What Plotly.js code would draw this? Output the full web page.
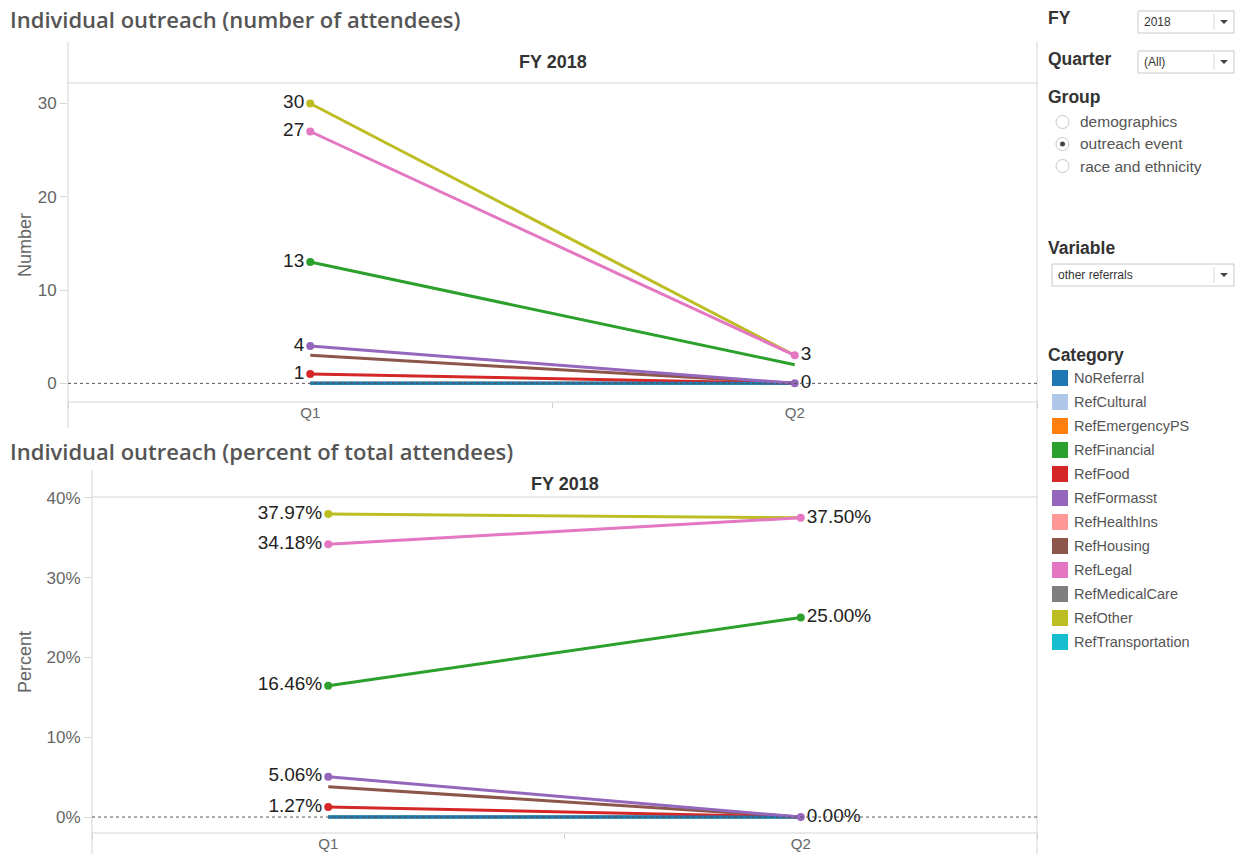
<!DOCTYPE html>
<html><head><meta charset="utf-8">
<script src="https://cdn.plot.ly/plotly-3.0.1.min.js"></script>
<style>html,body{margin:0;padding:0;background:#fff}#chart{width:1235px;height:854px}</style>
</head><body><div id="chart"></div>
<script>
const quarters = ['Q1', 'Q2'];
const categories = ['NoReferral','RefCultural','RefEmergencyPS','RefFinancial','RefFood','RefFormasst','RefHealthIns','RefHousing','RefLegal','RefMedicalCare','RefOther','RefTransportation'];
const colors = ['#1f77b4','#aec7e8','#ff7f0e','#2ca02c','#d62728','#9467bd','#ff9896','#8c564b','#e377c2','#7f7f7f','#bcbd22','#17becf'];
const countQ1 = [0, 0, 0, 13, 1, 4, 0, 3, 27, 0, 30, 0];
const countQ2 = [0, 0, 0, 2, 0, 0, 0, 0, 3, 0, 3, 0];
const pctQ1 = [0, 0, 0, 16.46, 1.27, 5.06, 0, 3.80, 34.18, 0, 37.97, 0];
const pctQ2 = [0, 0, 0, 25.00, 0, 0, 0, 0, 37.50, 0, 37.50, 0];
// points that carry a visible label (others hidden as overlapping)
const countLabelQ1 = [0, 0, 0, 1, 1, 1, 0, 0, 1, 0, 1, 0];
const countLabelQ2 = [0, 0, 0, 0, 0, 1, 0, 0, 1, 0, 0, 0];
const pctLabelQ1 = [0, 0, 0, 1, 1, 1, 0, 0, 1, 0, 1, 0];
const pctLabelQ2 = [0, 0, 0, 1, 0, 1, 0, 0, 1, 0, 0, 0];
const countTicks = [0, 10, 20, 30];
const pctTicks = [0, 10, 20, 30, 40];
const fyLabel = 'FY 2018';
const groups = ['demographics', 'outreach event', 'race and ethnicity'];
const selectedGroup = 'outreach event';

const W = 1235, H = 854;
const px = x => x / W;
const py = y => 1 - y / H;
const drawOrder = [1, 2, 6, 9, 11, 7, 4, 0, 5, 3, 10, 8];
const FF = 'Liberation Sans, Arial, sans-serif';
const labelFont = {family: FF, size: 19, color: '#222'};

const traces = [];
drawOrder.forEach(i => {
  traces.push({
    x: quarters, y: [countQ1[i], countQ2[i]], xaxis: 'x', yaxis: 'y',
    type: 'scatter', mode: 'lines+markers+text', name: categories[i],
    line: {color: colors[i], width: 3},
    marker: {color: colors[i], opacity: 1, line: {width: 0}, size: [countLabelQ1[i] ? 8 : 0, countLabelQ2[i] ? 8 : 0]},
    text: [countLabelQ1[i] ? String(countQ1[i]) : '', countLabelQ2[i] ? String(countQ2[i]) : ''],
    textposition: ['middle left', 'middle right'], textfont: labelFont,
    cliponaxis: false, showlegend: false, hoverinfo: 'name+y'
  });
  traces.push({
    x: quarters, y: [pctQ1[i], pctQ2[i]], xaxis: 'x2', yaxis: 'y2',
    type: 'scatter', mode: 'lines+markers+text', name: categories[i],
    line: {color: colors[i], width: 3},
    marker: {color: colors[i], opacity: 1, line: {width: 0}, size: [pctLabelQ1[i] ? 8 : 0, pctLabelQ2[i] ? 8 : 0]},
    text: [pctLabelQ1[i] ? pctQ1[i].toFixed(2) + '%' : '', pctLabelQ2[i] ? pctQ2[i].toFixed(2) + '%' : ''],
    textposition: ['middle left', 'middle right'], textfont: labelFont,
    cliponaxis: false, showlegend: false, hoverinfo: 'name+y'
  });
});

const tickFont = {family: FF, size: 17, color: '#666'};
const xCommon = {
  type: 'category', range: [-0.5, 1.5], showgrid: false, zeroline: false, showline: false,
  ticks: 'outside', tickson: 'boundaries', ticklen: 5, tickcolor: '#cfcfcf',
  tickfont: {family: FF, size: 15, color: '#666'}, fixedrange: true
};
const yCommon = {
  showgrid: false, zeroline: false, showline: false, ticks: 'outside', ticklen: 7,
  tickcolor: '#d8d8d8', tickfont: tickFont, fixedrange: true
};

const shapes = [];
const ann = [];
const gray = '#d4d4d4';
function hline(x0, x1, y, color, w) { shapes.push({type: 'line', xref: 'paper', yref: 'paper', x0: px(x0), x1: px(x1), y0: py(y), y1: py(y), line: {color: color || gray, width: w || 1}}); }
function vline(x, y0, y1, color) { shapes.push({type: 'line', xref: 'paper', yref: 'paper', x0: px(x), x1: px(x), y0: py(y0), y1: py(y1), line: {color: color || gray, width: 1}}); }
function text(x, y, t, opts) {
  ann.push(Object.assign({xref: 'paper', yref: 'paper', x: px(x - 2), y: py(y), text: t, showarrow: false,
    xanchor: 'left', yanchor: 'middle', font: {family: FF, size: 15, color: '#555'}}, opts || {}));
}

// chart frames
vline(68, 42, 428); hline(68, 1037, 83); hline(68, 1037, 402);
vline(92, 470, 854); hline(92, 1037, 497); hline(92, 1037, 833);
vline(1037, 42, 854);
// zero reference lines
shapes.push({type: 'line', xref: 'paper', yref: 'y', x0: px(68), x1: px(1037), y0: 0, y1: 0, line: {color: '#555', width: 1, dash: 'dot'}});
shapes.push({type: 'line', xref: 'paper', yref: 'y2', x0: px(92), x1: px(1037), y0: 0, y1: 0, line: {color: '#555', width: 1, dash: 'dot'}});

// titles
const titleFont = {family: 'Open Sans, sans-serif', size: 22, color: '#555', weight: 600};
text(10, 19, 'Individual outreach (number of attendees)', {font: titleFont});
text(10, 451, 'Individual outreach (percent of total attendees)', {font: titleFont});
const headFont = {family: FF, size: 18, color: '#333'};
text((68 + 1037) / 2 + 2, 62, '<b>' + fyLabel + '</b>', {xanchor: 'center', font: headFont});
text((92 + 1037) / 2 + 2, 484, '<b>' + fyLabel + '</b>', {xanchor: 'center', font: headFont});
// axis titles
text(27, 245, 'Number', {xanchor: 'center', textangle: -90, font: {family: FF, size: 18, color: '#666'}});
text(27, 662, 'Percent', {xanchor: 'center', textangle: -90, font: {family: FF, size: 18, color: '#666'}});

// side panel: filters
const boldHead = {family: FF, size: 17.5, color: '#333'};
function dropdown(x0, y0, x1, y1, label) {
  shapes.push({type: 'rect', xref: 'paper', yref: 'paper', x0: px(x0), x1: px(x1), y0: py(y1), y1: py(y0), line: {color: '#c8c8c8', width: 1}, fillcolor: '#fff'});
  vline(x1 - 20, y0 + 3, y1 - 3, '#d8d8d8');
  const cx = x1 - 10, cy = (y0 + y1) / 2;
  shapes.push({type: 'path', xref: 'paper', yref: 'paper', path: `M ${px(cx - 4)} ${py(cy - 2)} L ${px(cx + 4)} ${py(cy - 2)} L ${px(cx)} ${py(cy + 2)} Z`, fillcolor: '#444', line: {width: 0}});
  text(x0 + 6, cy, label, {font: {family: FF, size: 12, color: '#333'}});
}
text(1048, 18, '<b>FY</b>', {font: boldHead});
dropdown(1138, 11, 1234, 33, '2018');
text(1048, 59, '<b>Quarter</b>', {font: boldHead});
dropdown(1138, 51, 1234, 73, '(All)');
text(1048, 97, '<b>Group</b>', {font: boldHead});
groups.forEach((g, k) => {
  const cy = 122 + k * 22;
  shapes.push({type: 'circle', xref: 'paper', yref: 'paper', x0: px(1056), x1: px(1069), y0: py(cy + 6.5), y1: py(cy - 6.5), line: {color: '#c8c8c8', width: 1}, fillcolor: '#fff'});
  if (g === selectedGroup) {
    shapes.push({type: 'circle', xref: 'paper', yref: 'paper', x0: px(1060), x1: px(1065), y0: py(cy + 2.5), y1: py(cy - 2.5), line: {width: 0}, fillcolor: '#444'});
  }
  text(1080, cy, g, {font: {family: FF, size: 15.5, color: '#555'}});
});
text(1048, 248, '<b>Variable</b>', {font: boldHead});
dropdown(1052, 264, 1234, 286, 'other referrals');

// legend
text(1048, 355, '<b>Category</b>', {font: boldHead});
categories.forEach((c, k) => {
  const cy = 378 + k * 24;
  shapes.push({type: 'rect', xref: 'paper', yref: 'paper', x0: px(1052), x1: px(1068), y0: py(cy + 8), y1: py(cy - 8), line: {width: 0}, fillcolor: colors[k]});
  text(1074, cy, c, {font: {family: FF, size: 14.5, color: '#555'}});
});

const layout = {
  width: W, height: H, margin: {l: 0, r: 0, t: 0, b: 0},
  paper_bgcolor: '#fff', plot_bgcolor: 'rgba(0,0,0,0)', showlegend: false,
  xaxis: Object.assign({}, xCommon, {domain: [px(68), px(1037)], anchor: 'y'}),
  yaxis: Object.assign({}, yCommon, {domain: [py(402), py(83)], range: [-2.0, 32.2], tickmode: 'array', tickvals: countTicks, ticktext: countTicks.map(String), anchor: 'x'}),
  xaxis2: Object.assign({}, xCommon, {domain: [px(92), px(1037)], anchor: 'y2'}),
  yaxis2: Object.assign({}, yCommon, {domain: [py(833), py(497)], range: [-2.0, 40.1], tickmode: 'array', tickvals: pctTicks, ticktext: pctTicks.map(v => v + '%'), anchor: 'x2'}),
  shapes: shapes, annotations: ann
};
Plotly.newPlot('chart', traces, layout, {displayModeBar: false, staticPlot: true});
</script></body></html>
